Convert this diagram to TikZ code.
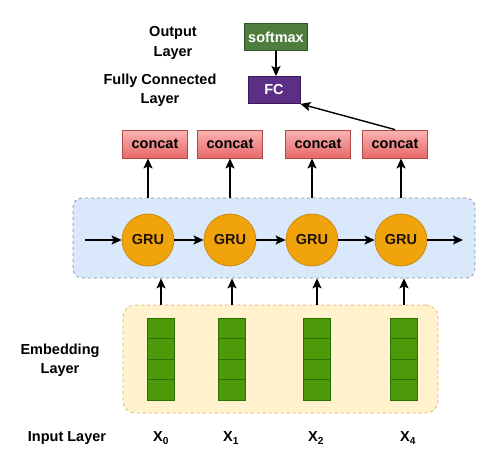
\documentclass[tikz,border=0pt]{standalone}
\usepackage{fontspec}
\setmainfont{Liberation Sans}
\usetikzlibrary{arrows.meta,positioning,calc}
\definecolor{smgreen}{HTML}{4E7D3E}
\definecolor{smgreendark}{HTML}{2E5527}
\definecolor{fcpurple}{HTML}{5C2F86}
\definecolor{fcpurpledark}{HTML}{3A1B58}
\definecolor{catlight}{HTML}{F8B4B2}
\definecolor{catred}{HTML}{E8686A}
\definecolor{catdark}{HTML}{B04A47}
\definecolor{gruorange}{HTML}{F0A30A}
\definecolor{grudark}{HTML}{C88A10}
\definecolor{embgreen}{HTML}{4C9A0A}
\definecolor{embdark}{HTML}{2D7000}
\definecolor{rnnblue}{HTML}{DAE8FC}
\definecolor{rnnborder}{HTML}{8A8F99}
\definecolor{embyellow}{HTML}{FFF2CC}
\definecolor{embborder}{HTML}{D6B656}
\newcommand{\diagfont}{\fontsize{14.5}{19.5}\selectfont\bfseries}
\tikzset{
  layerlabel/.style={align=center, font=\diagfont, text=black, inner sep=0pt},
  outbox/.style={draw=smgreendark, fill=smgreen, line width=0.8pt, text=white, font=\diagfont, minimum width=63pt, minimum height=27pt, inner sep=0pt},
  fcbox/.style={draw=fcpurpledark, fill=fcpurple, line width=0.8pt, text=white, font=\diagfont, minimum width=52pt, minimum height=27pt, inner sep=0pt},
  concatbox/.style={draw=catdark, top color=catlight, bottom color=catred, line width=0.8pt, font=\diagfont, minimum width=65pt, minimum height=28pt, inner sep=0pt},
  gru/.style={circle, draw=grudark, fill=gruorange, line width=0.8pt, font=\diagfont, text=black!85!brown, minimum size=52pt, inner sep=0pt},
  cell/.style={draw=embdark, fill=embgreen, line width=0.8pt, minimum width=27pt, minimum height=20.5pt, inner sep=0pt},
  rnnpanel/.style={draw=rnnborder, dashed, fill=rnnblue, rounded corners=9pt, line width=0.7pt, inner sep=0pt},
  embpanel/.style={draw=embborder, dashed, fill=embyellow, rounded corners=12pt, line width=0.7pt, inner sep=0pt},
  edge/.style={-{Stealth[length=10pt,width=9pt,inset=2pt]}, line width=1.4pt, draw=black}
}
\begin{document}
\begin{tikzpicture}[x=1pt, y=-1pt]
  \useasboundingbox (0,0) rectangle (480,467);
  % panels
  \node[rnnpanel, minimum width=402pt, minimum height=80pt] (rnn) at (274,238) {};
  \node[embpanel, minimum width=315pt, minimum height=108pt] (emb) at (280.5,359) {};
  % output side
  \node[outbox] (softmax) at (276,37) {softmax};
  \node[fcbox] (fc) at (274,90) {FC};
  \node[layerlabel] (outlbl) at (173,43) {Output\\Layer};
  \node[layerlabel] (fclbl) at (160,90) {Fully Connected\\Layer};
  % recurrent layer
  \foreach \i/\x/\cx in {0/148/155, 1/230/230, 2/312/318, 3/401/395} {
    \node[gru] (g\i) at (\x,240) {GRU};
    \node[concatbox] (cc\i) at (\cx,144) {concat};
  }
  % embedding columns
  \foreach \i/\x in {0/161, 1/232, 2/317, 3/404} {
    \foreach \k in {0,...,3}
      \node[cell] (c\i\k) at (\x,328.25+\k*20.5) {};
  }
  \node[layerlabel] (emblbl) at (60,360) {Embedding\\Layer};
  \node[layerlabel] (inlbl) at (67,438) {Input Layer};
  \node[layerlabel] (x0) at (161,438) {X\textsubscript{0}};
  \node[layerlabel] (x1) at (231,438) {X\textsubscript{1}};
  \node[layerlabel] (x2) at (316,438) {X\textsubscript{2}};
  \node[layerlabel] (x4) at (408,438) {X\textsubscript{4}};
  \coordinate (hin) at (85,240);
  \coordinate (hout) at (463,240);
  % connectors
  \draw[edge] (softmax) -- (softmax |- fc.north);
  \draw[edge] (cc3.north) -- (fc.south east);
  \draw[edge] (hin) -- (g0);
  \draw[edge] (g0) -- (g1);
  \draw[edge] (g1) -- (g2);
  \draw[edge] (g2) -- (g3);
  \draw[edge] (g3) -- (hout);
  \foreach \i in {0,...,3} {
    \draw[edge] (g\i |- rnn.north) -- (cc\i.south -| g\i);
    \draw[edge] (c\i0.north |- emb.north) -- (c\i0.north |- rnn.south);
  }
\end{tikzpicture}
\end{document}
